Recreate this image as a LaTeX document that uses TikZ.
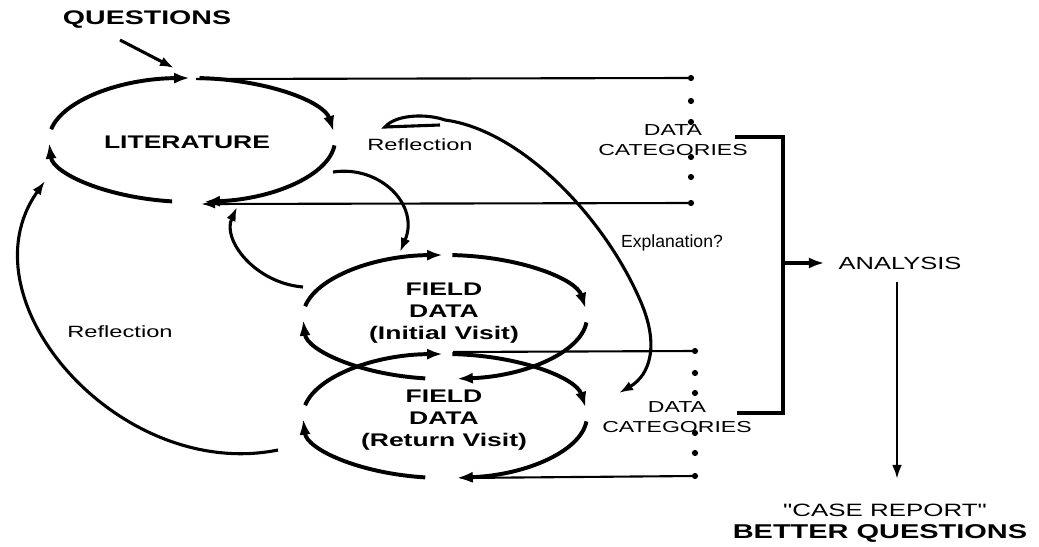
\documentclass[tikz,border=0pt]{standalone}
\usepackage{fontspec}
\setmainfont{Liberation Sans}
\newfontfamily\widesf[FakeStretch=1.45]{Liberation Sans}
\usetikzlibrary{arrows.meta,positioning,calc}

\begin{document}
\begin{tikzpicture}[x=0.025cm, y=-0.025cm,
  cyc/.style={line width=2.8pt, -{Latex[length=11pt,width=8pt]}},
  arr/.style={line width=2.2pt, -{Latex[length=10pt,width=7pt]}},
  link/.style={line width=1.5pt},
  larr/.style={link, -{Latex[length=10pt,width=6.5pt]}},
  brace/.style={line width=3pt},
  dot/.style={circle, fill, inner sep=0pt, minimum size=4.4pt},
  lbl/.style={font=\widesf\fontsize{11.3pt}{14.2pt}\selectfont, align=center, inner sep=0pt},
  head/.style={font=\widesf\bfseries\fontsize{13pt}{15.4pt}\selectfont, align=center, inner sep=0pt}
]
  \useasboundingbox (0,0) rectangle (1039,546);

  % labels
  \node[head, font=\widesf\bfseries\fontsize{14pt}{16pt}\selectfont] (ques) at (147,20) {QUESTIONS};
  \node[head] (lit) at (187,142) {LITERATURE};
  \node[head] (fi) at (444,313) {FIELD\\DATA\\(Initial Visit)};
  \node[head] (fr) at (444,420) {FIELD\\DATA\\(Return Visit)};
  \node[lbl, font=\widesf\fontsize{11.6pt}{14pt}\selectfont] (refl-a) at (420,145) {Reflection};
  \node[lbl, font=\widesf\fontsize{11.6pt}{14pt}\selectfont] (refl-b) at (120,332) {Reflection};
  \node[lbl, font=\fontsize{12.5pt}{14pt}\selectfont] (expl) at (672,243) {Explanation?};
  \node[lbl] (cat-a) at (673,140) {DATA\\CATEGORIES};
  \node[lbl] (cat-b) at (677,417) {DATA\\CATEGORIES};
  \node[lbl, font=\widesf\fontsize{12.5pt}{14pt}\selectfont] (ana) at (900,263) {ANALYSIS};
  \node[lbl, font=\widesf\fontsize{12.7pt}{14pt}\selectfont] (rep) at (885,510) {"CASE REPORT"};
  \node[head, font=\widesf\bfseries\fontsize{14.2pt}{16pt}\selectfont] (better) at (880,533) {BETTER QUESTIONS};

  % ellipse centres and line ends
  \coordinate (lit-c) at (192,140);
  \coordinate (fi-c) at (445,317);
  \coordinate (fr-c) at (445,416);
  \coordinate (q0) at (120,40);
  \coordinate (q1) at (174,68);

  % cycles
  \foreach \c/\rx/\ry in {lit-c/143/62, fi-c/142/62, fr-c/142/62}{
    \draw[cyc] ($(\c)+(190:{\rx} and {\ry})$) arc[start angle=190, end angle=269, x radius=\rx, y radius=\ry];
    \draw[cyc] ($(\c)+(273:{\rx} and {\ry})$) arc[start angle=273, end angle=352, x radius=\rx, y radius=\ry];
    \draw[cyc] ($(\c)+(5:{\rx} and {\ry})$) arc[start angle=5, end angle=85, x radius=\rx, y radius=\ry];
    \draw[cyc] ($(\c)+(98:{\rx} and {\ry})$) arc[start angle=98, end angle=177, x radius=\rx, y radius=\ry];
  }

  \draw[arr] (q0) -- (q1);

  % data category columns
  \foreach \n/\y in {d1/78, d2/101, d3/122, d4/157, d5/177, d6/203}
    \node[dot] (\n) at (691,\y) {};
  \foreach \n/\y in {e1/351, e2/373, e3/393, e4/433, e5/453, e6/476}
    \node[dot] (\n) at (695,\y) {};

  \coordinate (lit-t) at (196,79);
  \coordinate (lit-b) at (201,204);
  \coordinate (fr-t) at (453,352);
  \coordinate (fr-b) at (458,478);
  \draw[link] (lit-t) -- (d1.center);
  \draw[larr] (d6.center) -- (lit-b);
  \draw[link] (fr-t) -- (e1.center);
  \draw[larr] (e6.center) -- (fr-b);

  % reflection and explanation loops
  \coordinate (l-out) at (333,172);
  \coordinate (fi-in) at (400,252);
  \coordinate (fi-out) at (303,287);
  \coordinate (lit-in) at (237,207);
  \coordinate (r-out) at (278,450);
  \coordinate (r-in) at (45,181);
  \coordinate (x-out) at (440,125);
  \coordinate (x-in) at (619,393);
  \draw[arr] (l-out) .. controls (380,165) and (420,205) .. (fi-in);
  \draw[arr] (fi-out) .. controls (255,283) and (222,240) .. (lit-in);
  \draw[arr] (r-out) .. controls (120,482) and (-40,300) .. (r-in);
  \draw[arr] (x-out) -- (385,127) .. controls (395,115) and (425,113) .. (445,120)
    .. controls (520,130) and (603,215) .. (640,300)
    .. controls (660,345) and (650,375) .. (x-in);

  % to analysis
  \coordinate (b1) at (735,137);
  \coordinate (b2) at (737,413);
  \coordinate (bm) at (783,263);
  \coordinate (v0) at (897,282);
  \coordinate (v1) at (897,479);
  \draw[brace] (b1) -- (783,137) -- (783,413) -- (b2);
  \draw[arr, -{Latex[length=11pt,width=8pt]}] (bm) -- ([xshift=-10pt]ana.west);
  \draw[arr, line width=1.9pt] (v0) -- (v1);
\end{tikzpicture}
\end{document}
